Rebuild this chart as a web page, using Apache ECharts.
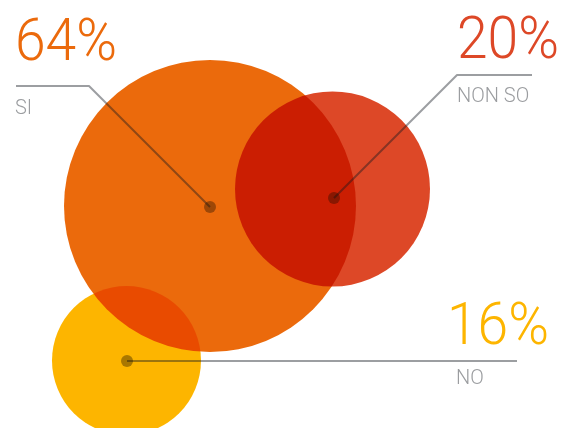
<!DOCTYPE html>
<html><head><meta charset="utf-8">
<script src="https://cdn.jsdelivr.net/npm/echarts@6/dist/echarts.min.js"></script>
<style>html,body{margin:0;padding:0;background:#fff}#c{width:565px;height:428px}</style>
</head><body><div id="c"></div>
<script>
// data
const labels = ['SI', 'NON SO', 'NO'];
const values = [64, 20, 16];
const centerX = [210, 332.5, 126.5];
const centerY = [206, 189, 360.5];
const anchorX = [210, 334, 127];
const anchorY = [207, 198, 361];

// styles
const colors = ['#EB6A0C', '#DD4827', '#FDB500'];
const radii = [146, 97.5, 74.5];
const elbows = [[[89, 86], [16, 86]], [[457, 75], [532, 75]], [[517, 361]]];
const labelPos = [
  {pct: [15, 45, 'left'], name: [15, 109, 'left']},
  {pct: [559, 43, 'right'], name: [457, 97, 'left']},
  {pct: [549, 329, 'right'], name: [456, 379, 'left']}
];
const grey = '#9B9DA0';
const font = 'Roboto';

const chart = echarts.init(document.getElementById('c'), null, {renderer: 'canvas'});
const series = [];
series.push({
  type: 'scatter', z: 1, silent: true, blendMode: 'multiply',
  data: values.map((v, i) => ({
    value: [centerX[i], centerY[i], v],
    symbolSize: radii[i] * 2,
    itemStyle: {color: colors[i], opacity: 1}
  }))
});
values.forEach((v, i) => {
  series.push({
    type: 'line', z: 2, silent: true, symbol: 'none',
    lineStyle: {color: 'rgba(20,24,30,0.42)', width: 2},
    data: [[anchorX[i], anchorY[i]]].concat(elbows[i])
  });
});
series.push({
  type: 'scatter', z: 3, silent: true,
  symbolSize: 12,
  itemStyle: {color: 'rgba(20,10,0,0.45)'},
  data: values.map((v, i) => [anchorX[i], anchorY[i]])
});

const graphic = [];
values.forEach((v, i) => {
  const p = labelPos[i];
  graphic.push({type: 'text', x: p.pct[0], y: p.pct[1], scaleX: 0.92, style: {
    text: v + '%', fill: colors[i], font: '300 60px ' + font,
    textAlign: p.pct[2], textVerticalAlign: 'middle'}});
  graphic.push({type: 'text', x: p.name[0], y: p.name[1], style: {
    text: labels[i], fill: grey, font: '300 20px ' + font,
    textAlign: p.name[2], textVerticalAlign: 'middle'}});
});

chart.setOption({
  animation: false,
  grid: {left: 0, right: 0, top: 0, bottom: 0},
  xAxis: {type: 'value', min: 0, max: 565, show: false},
  yAxis: {type: 'value', min: 0, max: 428, inverse: true, show: false},
  series: series,
  graphic: graphic
});
</script></body></html>
